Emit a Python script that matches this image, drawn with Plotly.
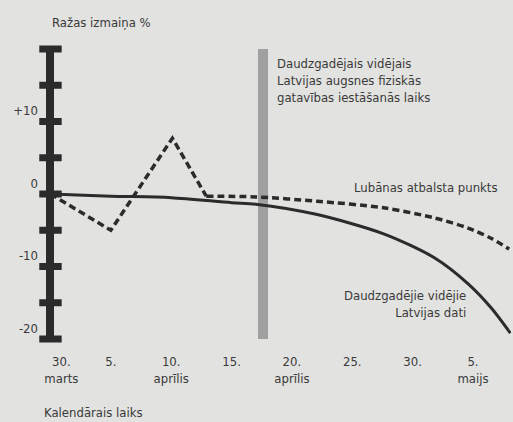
import plotly.graph_objects as go

# ---- data ----
# x = days counted from the start of the time axis (5 = 5 April, 35 = 5 May)
latvia_days = [0, 5, 10, 15, 17, 22, 27.6, 31.8, 34.6, 36.5, 38.1]
latvia_change = [0, -0.3, -0.5, -1.2, -1.4, -2.8, -5.5, -8.8, -12.4, -15.7, -19.2]

lubana_days_a = [0, 5, 10.1, 12.9]
lubana_change_a = [0, -5, 7.7, -0.3]
lubana_days_b = [12.9, 17, 22.1, 27.6, 31.8, 34.6, 36.5, 38]
lubana_change_b = [-0.3, -0.4, -1.0, -1.9, -3.3, -4.7, -6.1, -7.6]

soil_ready_day = 17.6
soil_ready_halfwidth = 0.42

y_tick_vals = [-20, -10, 0, 10]
y_tick_text = ["-20", "-10", "0", "+10"]
y_minor_vals = [-20, -15, -10, -5, 0, 5, 10, 15, 20]

x_tick_vals = [0.9, 5, 10, 15, 20, 25, 30, 35]
x_tick_text = ["30.<br>marts", "5.", "10.<br>aprīlis", "15.", "20.<br>aprīlis", "25.", "30.", "5.<br>maijs"]

INK = "#2b2b2b"
TXT = "#3a3a3a"
BG = "#e2e2e0"
FONT = "DejaVu Sans Condensed, sans-serif"
FS = 13

fig = go.Figure()

# gray band: average soil readiness time
fig.add_trace(go.Bar(
    x=[soil_ready_day], y=[y_minor_vals[-1] - y_minor_vals[0]], base=[y_minor_vals[0]],
    width=[2 * soil_ready_halfwidth], marker=dict(color="#a0a0a0", line=dict(width=0)),
    hoverinfo="skip", showlegend=False,
))

fig.add_trace(go.Scatter(
    x=latvia_days, y=latvia_change, mode="lines",
    line=dict(color=INK, width=3, shape="spline", smoothing=0.8),
    showlegend=False, cliponaxis=False,
))
fig.add_trace(go.Scatter(
    x=lubana_days_a, y=lubana_change_a, mode="lines",
    line=dict(color=INK, width=3.5, dash="7px,4px"),
    showlegend=False, cliponaxis=False,
))
fig.add_trace(go.Scatter(
    x=lubana_days_b, y=lubana_change_b, mode="lines",
    line=dict(color=INK, width=3.5, dash="7px,4px", shape="spline", smoothing=0.8),
    showlegend=False, cliponaxis=False,
))

# tick blobs on the vertical axis
fig.add_trace(go.Scatter(
    x=[0] * len(y_minor_vals), y=y_minor_vals, mode="markers",
    marker=dict(symbol="line-ew", size=16, line=dict(color=INK, width=7)),
    showlegend=False, cliponaxis=False, hoverinfo="skip",
))

fig.update_layout(
    width=513, height=422,
    margin=dict(l=43, r=2, t=49, b=83),
    paper_bgcolor=BG, plot_bgcolor=BG,
    font=dict(family=FONT, size=FS, color=TXT),
    bargap=0,
    xaxis=dict(
        range=[-0.62, 38.15], showgrid=False, showline=False,
        zeroline=True, zerolinewidth=8, zerolinecolor=INK,
        tickmode="array", tickvals=x_tick_vals, ticktext=x_tick_text,
        ticks="", ticklabelstandoff=13,
        tickfont=dict(family=FONT, size=FS, color=TXT),
    ),
    yaxis=dict(
        range=[-20, 20], showgrid=False, showline=False, zeroline=False,
        tickmode="array", tickvals=y_tick_vals, ticktext=y_tick_text,
        ticks="", ticklabelshift=-11, ticklabelstandoff=4,
        tickfont=dict(family=FONT, size=FS, color=TXT),
    ),
    annotations=[
        dict(text="Ražas izmaiņa %", xref="paper", yref="paper", x=0.015, y=1.093,
             xanchor="left", yanchor="middle", showarrow=False),
        dict(text="Kalendārais laiks", xref="paper", yref="paper", x=-0.002, y=-0.255,
             xanchor="left", yanchor="middle", showarrow=False),
        dict(text="Daudzgadējais vidējais<br>Latvijas augsnes fiziskās<br>gatavības iestāšanās laiks",
             xref="paper", yref="paper", x=0.496, y=0.893,
             xanchor="left", yanchor="middle", align="left", showarrow=False),
        dict(text="Lubānas atbalsta punkts", xref="paper", yref="paper", x=0.9765, y=0.521,
             xanchor="right", yanchor="middle", showarrow=False),
        dict(text="Daudzgadējie vidējie<br>Latvijas dati", xref="paper", yref="paper",
             x=0.908, y=0.121, xanchor="right", yanchor="middle", align="right",
             showarrow=False),
    ],
)

fig.write_html(
    "out.html",
    config={"displayModeBar": False},
    post_script="document.body.style.margin='0';document.body.style.overflow='hidden';",
)
